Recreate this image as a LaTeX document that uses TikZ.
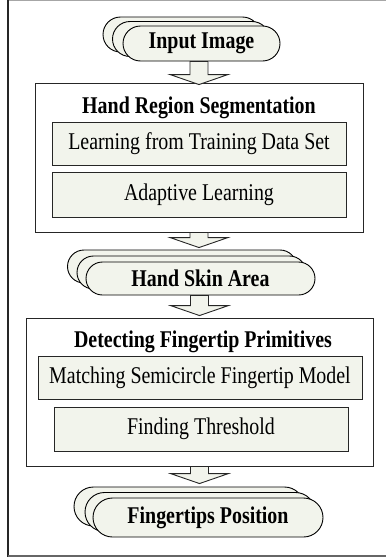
\documentclass[tikz,border=0pt]{standalone}
\usepackage{fontspec}
\setmainfont[FakeStretch=0.83]{Liberation Serif}
\usetikzlibrary{calc}

\definecolor{paper}{HTML}{F2F4EC}
\definecolor{inkline}{HTML}{262626}

\tikzset{
  txt/.style={font=\fontsize{24}{28}\selectfont},
  boldtxt/.style={font=\fontsize{24}{28}\selectfont\bfseries},
  stackbox/.style={draw=black, line width=0.9pt, fill=paper, inner sep=0pt, boldtxt},
  groupbox/.style={draw=inkline, line width=0.9pt, fill=white, inner sep=0pt},
  stepbox/.style={draw=inkline, line width=0.9pt, fill=paper, inner sep=0pt, txt},
  grouptitle/.style={inner sep=0pt, boldtxt},
  arr/.style={draw=inkline, line width=0.9pt, fill=paper, line join=miter},
}

% block arrow: #1 start point, #2 its vertical shift, #3 tip point, #4 its vertical shift
\newcommand\blockarrow[4]{%
  \path let \p1=($(#1)+(0,#2)$), \p2=($(#3)+(0,#4)$) in
    [arr] (\x1-9pt,\y1) -- (\x1-9pt,\y2+10pt) -- (\x1-29pt,\y2+10pt)
    -- (\x1,\y2) -- (\x1+29pt,\y2+10pt) -- (\x1+9pt,\y2+10pt)
    -- (\x1+9pt,\y1) -- cycle;}

\begin{document}
\begin{tikzpicture}[x=1pt,y=-1pt]
  \useasboundingbox (0,0) rectangle (386,560);

  % outer frame
  \draw[gray!70, line width=1pt] (8,0.5) -- (386,0.5);
  \draw[black!85, line width=1.3pt] (8,0) -- (8,556.5);
  \draw[gray!80!black, line width=1.6pt] (8,556) -- (386,556);

  % input stack
  \node[stackbox, rounded corners=17.5pt, minimum width=157pt, minimum height=35pt] (inC) at (181.5,34.5) {};
  \node[stackbox, rounded corners=17.5pt, minimum width=157pt, minimum height=35pt] (inB) at (191,39) {};
  \node[stackbox, rounded corners=17.5pt, minimum width=157pt, minimum height=35pt] (inA) at (201.5,43.5) {Input Image};

  % hand region segmentation
  \node[groupbox, minimum width=328pt, minimum height=149pt] (box1) at (199,157.5) {};
  \node[grouptitle, anchor=base] (t1) at (199,113) {Hand Region Segmentation};
  \node[stepbox, minimum width=294pt, minimum height=43pt] (s1) at (199,143.5) {Learning from Training Data Set};
  \node[stepbox, minimum width=294pt, minimum height=45pt] (s2) at (199,194.5) {Adaptive Learning};

  % hand skin stack
  \node[stackbox, rounded corners=16.5pt, minimum width=229pt, minimum height=33pt] (skC) at (182,266.5) {};
  \node[stackbox, rounded corners=16.5pt, minimum width=229pt, minimum height=33pt] (skB) at (191.5,272.5) {};
  \node[stackbox, rounded corners=16.5pt, minimum width=229pt, minimum height=33pt] (skA) at (200.5,278.5) {Hand Skin Area};

  % fingertip primitives
  \node[groupbox, minimum width=347pt, minimum height=148pt] (box2) at (199.5,392) {};
  \node[grouptitle, anchor=base] (t2) at (203,347) {Detecting Fingertip Primitives};
  \node[stepbox, minimum width=324pt, minimum height=43pt] (s3) at (200,377.5) {Matching Semicircle Fingertip Model};
  \node[stepbox, minimum width=294pt, minimum height=44pt] (s4) at (201,429) {Finding Threshold};

  % output stack
  \node[stackbox, rounded corners=19.5pt, minimum width=230pt, minimum height=39pt] (ftC) at (189,506.5) {};
  \node[stackbox, rounded corners=19.5pt, minimum width=230pt, minimum height=39pt] (ftB) at (200,512) {};
  \node[stackbox, rounded corners=19.5pt, minimum width=230pt, minimum height=39pt] (ftA) at (208,517.5) {Fingertips Position};

  % connectors
  \blockarrow{box1.north |- inA.south}{0}{box1.north}{2}
  \blockarrow{box1.south}{0}{box1.south |- skC.north}{-2}
  \blockarrow{box2.north |- skA.south}{0}{box2.north}{-2}
  \blockarrow{box2.south}{0}{box2.south |- ftC.north}{-3}
\end{tikzpicture}
\end{document}
